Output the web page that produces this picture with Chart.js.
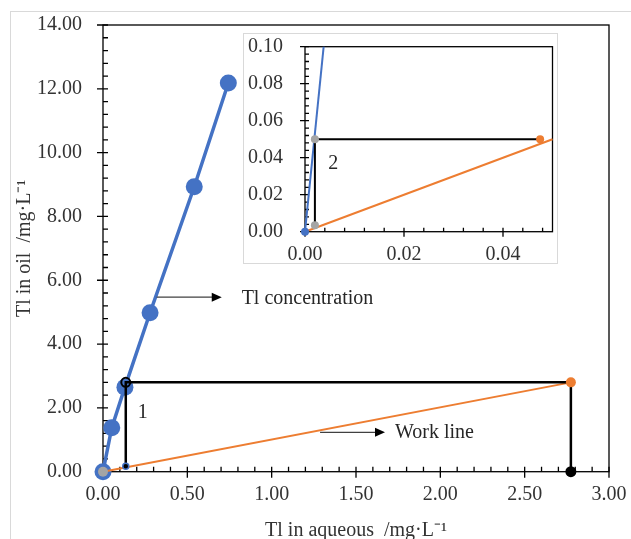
<!DOCTYPE html>
<html><head><meta charset="utf-8">
<script src="https://cdn.jsdelivr.net/npm/chart.js@4/dist/chart.umd.min.js"></script>
<style>
html,body{margin:0;padding:0;background:#fff;overflow:hidden;width:631px;height:539px;}
#frame{position:absolute;left:10px;top:11px;width:700px;height:600px;border:1px solid #d9d9d9;box-sizing:border-box;}
#main{position:absolute;left:0;top:0;}
#insetBox{position:absolute;left:243px;top:33px;width:315px;height:231px;border:1px solid #d9d9d9;box-sizing:border-box;background:#fff;}
#inset{position:absolute;left:0;top:0;}
</style></head><body>
<div id="frame"></div>
<canvas id="main" width="631" height="539"></canvas>
<div id="insetBox"><canvas id="inset" width="313" height="229"></canvas></div>
<script>
// ---- data ----
const blueX = [0, 0.052, 0.13, 0.279, 0.541, 0.743];
const blueY = [0, 1.38, 2.65, 4.98, 8.93, 12.18];
const workLineX = [0, 2.774];
const workLineY = [0, 2.80];
const stepX = [0.135, 0.135, 2.774, 2.774];
const stepY = [0.17, 2.80, 2.80, 0];
const originX = [0];
const originY = [0];
const insetWorkX = [0, 0.05];
const insetWorkY = [0, 0.05];
const insetStepX = [0.0475, 0.002, 0.002];
const insetStepY = [0.05, 0.05, 0.0035];
// ---- tick labels ----
const mainXTicks = [0, 0.5, 1, 1.5, 2, 2.5, 3];
const mainYTicks = [0, 2, 4, 6, 8, 10, 12, 14];
const insetXTicks = [0, 0.02, 0.04];
const insetYTicks = [0, 0.02, 0.04, 0.06, 0.08, 0.10];

const BLUE = '#4472C4', ORANGE = '#ED7D31', GREY = '#A5A5A5', TXT = '#333';
const FONT = "'Liberation Serif', 'Times New Roman', serif";
Chart.defaults.font.family = FONT;
Chart.defaults.font.size = 20;
Chart.defaults.color = TXT;

const pts = (xs, ys) => xs.map((x, i) => ({x: x, y: ys[i]}));

const axisBox = {
  id: 'axisBox',
  beforeDatasetsDraw(chart, args, o) {
    const {ctx, chartArea: a, scales: {x, y}} = chart;
    ctx.save();
    ctx.strokeStyle = '#000';
    ctx.lineWidth = o.lineWidth;
    ctx.strokeRect(a.left, a.top, a.right - a.left, a.bottom - a.top);
    ctx.beginPath();
    const nx = Math.floor((x.max - x.min) / o.xMinor + 1e-6);
    for (let i = 0; i <= nx; i++) {
      const p = x.getPixelForValue(x.min + i * o.xMinor);
      ctx.moveTo(p, a.bottom); ctx.lineTo(p, a.bottom - o.minorLen);
    }
    const ny = Math.floor((y.max - y.min) / o.yMinor + 1e-6);
    for (let i = 0; i <= ny; i++) {
      const p = y.getPixelForValue(y.min + i * o.yMinor);
      ctx.moveTo(a.left, p); ctx.lineTo(a.left + o.minorLen, p);
    }
    o.xMajor.forEach(v => {
      const p = x.getPixelForValue(v);
      ctx.moveTo(p, a.bottom - o.majIn); ctx.lineTo(p, a.bottom + o.majOut);
    });
    o.yMajor.forEach(v => {
      const p = y.getPixelForValue(v);
      ctx.moveTo(a.left - o.majOut, p); ctx.lineTo(a.left + o.majIn, p);
    });
    ctx.stroke();
    ctx.restore();
  }
};

const notes = {
  id: 'notes',
  afterDatasetsDraw(chart, args, o) {
    const {ctx, scales: {x, y}} = chart;
    ctx.save();
    (o.arrows || []).forEach(a => {
      const x1 = x.getPixelForValue(a.x1), y1 = y.getPixelForValue(a.y1);
      const x2 = x.getPixelForValue(a.x2), y2 = y.getPixelForValue(a.y2);
      ctx.strokeStyle = '#404040'; ctx.lineWidth = 1.2;
      ctx.beginPath(); ctx.moveTo(x1, y1); ctx.lineTo(x2 - 8, y2); ctx.stroke();
      ctx.fillStyle = '#000';
      ctx.beginPath(); ctx.moveTo(x2, y2); ctx.lineTo(x2 - 10, y2 - 4.5); ctx.lineTo(x2 - 10, y2 + 4.5); ctx.closePath(); ctx.fill();
    });
    ctx.fillStyle = '#262626';
    ctx.font = '20px ' + FONT;
    ctx.textBaseline = 'middle';
    (o.labels || []).forEach(l => {
      ctx.textAlign = l.align || 'left';
      ctx.fillText(l.text, x.getPixelForValue(l.x), y.getPixelForValue(l.y));
    });
    ctx.restore();
  }
};

const fmt2 = v => Number(v).toFixed(2);

new Chart(document.getElementById('main'), {
  type: 'scatter',
  data: {
    datasets: [
      {label: 'origin', data: pts(originX, originY), pointRadius: 5, pointBackgroundColor: GREY,
       pointBorderWidth: 0, showLine: false, order: 0, clip: false},
      {label: 'step', data: pts(stepX, stepY), showLine: true, borderColor: '#000', borderWidth: 2.5,
       pointRadius: [3, 4.5, 5, 5.5],
       pointBackgroundColor: ['#000', 'rgba(0,0,0,0)', ORANGE, '#000'],
       pointBorderColor: [BLUE, '#000', ORANGE, '#000'],
       pointBorderWidth: [1.5, 2, 0, 0], order: 1, clip: false},
      {label: 'Work line', data: pts(workLineX, workLineY), showLine: true, borderColor: ORANGE,
       borderWidth: 2, pointRadius: 0, order: 2, clip: false},
      {label: 'Tl concentration', data: pts(blueX, blueY), showLine: true, borderColor: BLUE,
       borderWidth: 3.5, pointRadius: 8.5, pointBackgroundColor: BLUE, pointBorderWidth: 0,
       order: 3, clip: false}
    ]
  },
  options: {
    responsive: false, animation: false, events: [],
    layout: {padding: {left: 0, top: 25, right: 22, bottom: 0}},
    plugins: {
      legend: {display: false}, tooltip: {enabled: false},
      axisBox: {lineWidth: 1.3, xMinor: 0.1, yMinor: 0.4, minorLen: 5, majIn: 5, majOut: 6,
                xMajor: mainXTicks, yMajor: mainYTicks},
      notes: {
        arrows: [{x1: 0.318, y1: 5.47, x2: 0.704, y2: 5.47}, {x1: 1.287, y1: 1.235, x2: 1.672, y2: 1.235}],
        labels: [{x: 0.822, y: 5.42, text: 'Tl concentration'}, {x: 1.731, y: 1.21, text: 'Work line'},
                 {x: 0.235, y: 1.86, text: '1', align: 'center'}]
      }
    },
    scales: {
      x: {
        type: 'linear', min: 0, max: 3,
        afterBuildTicks: s => { s.ticks = mainXTicks.map(v => ({value: v})); },
        afterFit: s => { s.height = 67.3; s.paddingLeft = 0; s.paddingRight = 0; },
        grid: {display: false, drawTicks: false}, border: {display: false},
        ticks: {padding: 11, color: TXT, callback: fmt2, maxRotation: 0, autoSkip: false},
        title: {display: true, text: 'Tl in aqueous  /mg·L⁻¹', color: TXT, padding: {top: 0, bottom: -4}}
      },
      y: {
        type: 'linear', min: 0, max: 14,
        afterBuildTicks: s => { s.ticks = mainYTicks.map(v => ({value: v})); },
        afterFit: s => { s.width = 103; s.paddingTop = 0; s.paddingBottom = 0; },
        grid: {display: false, drawTicks: false}, border: {display: false},
        ticks: {padding: 21, color: TXT, callback: fmt2, autoSkip: false},
        title: {display: true, text: 'Tl in oil  /mg·L⁻¹', color: TXT, padding: {top: 13, bottom: 0}}
      }
    }
  },
  plugins: [axisBox, notes]
});

new Chart(document.getElementById('inset'), {
  type: 'scatter',
  data: {
    datasets: [
      {label: 'step', data: pts(insetStepX, insetStepY), showLine: true, borderColor: '#000', borderWidth: 2,
       pointRadius: 4, pointBackgroundColor: [ORANGE, GREY, GREY], pointBorderWidth: 0, order: 0, clip: false},
      {label: 'Tl concentration', data: pts(blueX, blueY), showLine: true, borderColor: BLUE, borderWidth: 2,
       pointRadius: 4, pointBackgroundColor: BLUE, pointBorderWidth: 0, order: 1,
       clip: {left: 10, top: 0, right: 0, bottom: 10}},
      {label: 'Work line', data: pts(insetWorkX, insetWorkY), showLine: true, borderColor: ORANGE, borderWidth: 2,
       pointRadius: 0, order: 2, clip: false}
    ]
  },
  options: {
    responsive: false, animation: false, events: [],
    layout: {padding: {left: 0, top: 12.7, right: 4.5, bottom: 0}},
    plugins: {
      legend: {display: false}, tooltip: {enabled: false},
      axisBox: {lineWidth: 1.3, xMinor: 0.004, yMinor: 0.004, minorLen: 4, majIn: 4, majOut: 5,
                xMajor: insetXTicks, yMajor: insetYTicks},
      notes: {labels: [{x: 0.0057, y: 0.037, text: '2', align: 'center'}]}
    },
    scales: {
      x: {
        type: 'linear', min: 0, max: 0.05,
        afterBuildTicks: s => { s.ticks = insetXTicks.map(v => ({value: v})); },
        afterFit: s => { s.height = 31.3; s.paddingLeft = 0; s.paddingRight = 0; },
        grid: {display: false, drawTicks: false}, border: {display: false},
        ticks: {padding: 11, color: TXT, callback: fmt2, maxRotation: 0, autoSkip: false}
      },
      y: {
        type: 'linear', min: 0, max: 0.1,
        afterBuildTicks: s => { s.ticks = insetYTicks.map(v => ({value: v})); },
        afterFit: s => { s.width = 61; s.paddingTop = 0; s.paddingBottom = 0; },
        grid: {display: false, drawTicks: false}, border: {display: false},
        ticks: {padding: 22, color: TXT, callback: fmt2, autoSkip: false}
      }
    }
  },
  plugins: [axisBox, notes]
});
</script>
</body></html>
